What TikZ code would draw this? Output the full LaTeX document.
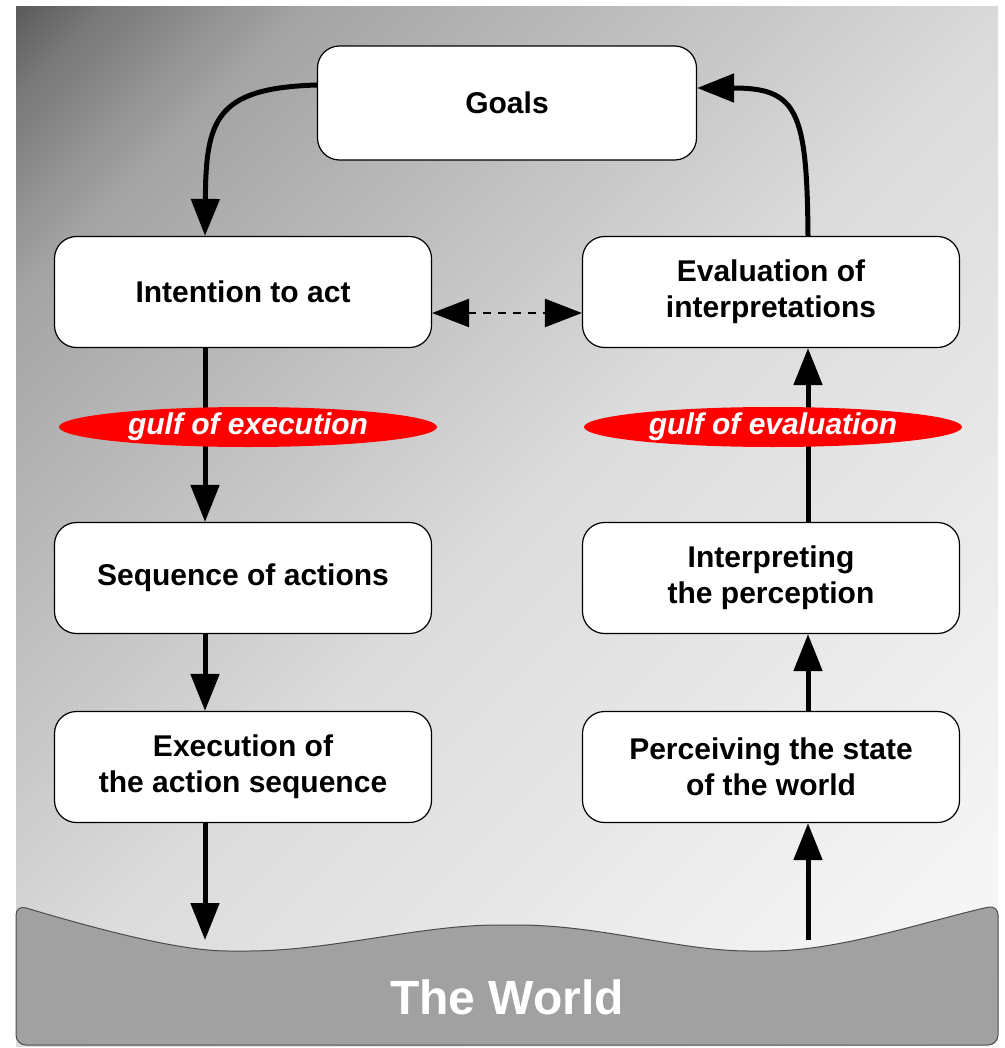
\documentclass[tikz,border=0pt]{standalone}
\usepackage{fontspec}
\setmainfont{Liberation Sans}
\usetikzlibrary{arrows.meta,shapes.geometric}
\pgfdeclareverticalshading{backdrop}{100bp}{color(0bp)=(black!3); color(14.6bp)=(black!3);
  color(21.7bp)=(black!4); color(50bp)=(black!14); color(67.7bp)=(black!29);
  color(75.5bp)=(black!36); color(82.5bp)=(black!53); color(85.4bp)=(black!64); color(100bp)=(black!64)}
\begin{document}
\begin{tikzpicture}[x=1pt,y=-1pt,
    box/.style={draw, fill=white, rounded corners=22pt, line width=1.2pt,
      minimum width=377pt, minimum height=111pt, inner sep=0pt, align=center,
      font=\bfseries\fontsize{30}{36}\selectfont},
    gulf/.style={ellipse, fill=red, minimum width=378pt, minimum height=40pt,
      inner sep=0pt, text=white, font=\bfseries\itshape\fontsize{30}{36}\selectfont},
    flow/.style={line width=5pt, -{Triangle[length=37pt,width=28pt]}},
    hint/.style={line width=2.5pt, dash pattern=on 8pt off 7pt,
      {Triangle[length=37pt,width=28pt]}-{Triangle[length=37pt,width=28pt]}}]
                \useasboundingbox (0,0) rectangle (1004,1048);
                \shade[shading=backdrop, shading angle=45] (16,7) rectangle (998,1046);
                \coordinate (lcol) at (205,0);
                \coordinate (rcol) at (808,0);
                \coordinate (wl) at (205,940);
                \coordinate (wr) at (808,940);
                \draw[rounded corners=10pt, fill=black!37, draw=black!70, line width=1pt]
                    (16,905) .. controls (100,930) and (180,951) .. (238,951)
                    .. controls (330,951) and (420,925) .. (508,925)
                    .. controls (600,925) and (680,951) .. (759,951)
                    .. controls (840,951) and (930,920) .. (998,905)
                    -- (998,1045) -- (16,1045) -- cycle;
                \node[text=white, font=\bfseries\fontsize{48}{56}\selectfont] (world) at (507,997) {The World};
                \node[box, minimum width=379pt, minimum height=114pt] (goals) at (507,103) {Goals};
                \node[box] (intent) at (243,292) {Intention to act};
                \node[box] (evalint) at (771,292) {Evaluation of\\interpretations};
                \node[box] (seq) at (243,578) {Sequence of actions};
                \node[box] (interp) at (771,578) {Interpreting\\the perception};
                \node[box] (exec) at (243,767) {Execution of\\the action sequence};
                \node[box] (perceive) at (771,767) {Perceiving the state\\of the world};
                \draw[flow] ([yshift=18pt]goals.west) .. controls (215,88) and (206,120) .. (intent.north -| lcol);
                \draw[flow] (evalint.north -| rcol) .. controls (807,110) and (797,88) .. ([yshift=15pt]goals.east);
                \draw[hint] ([yshift=-21pt]intent.east) -- ([yshift=-21pt]evalint.west);
                \path[flow]
                    (intent.south -| lcol) edge (seq.north -| lcol)
                    (seq.south -| lcol) edge (exec.north -| lcol)
                    (exec.south -| lcol) edge (wl)
                    (wr) edge (perceive.south -| rcol)
                    (perceive.north -| rcol) edge (interp.south -| rcol)
                    (interp.north -| rcol) edge (evalint.south -| rcol);
                \node[gulf] (gulfexec) at (248,427) {gulf of execution};
                \node[gulf] (gulfeval) at (773,427) {gulf of evaluation};
            \end{tikzpicture}
\end{document}
